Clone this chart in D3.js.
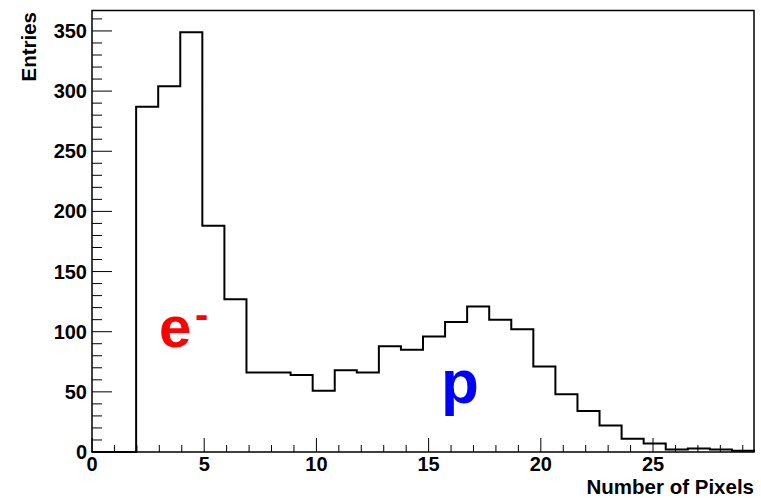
<!DOCTYPE html>
<html>
<head>
<meta charset="utf-8">
<script src="https://cdn.jsdelivr.net/npm/d3@7"></script>
<style>
  body { margin: 0; background: #fff; }
  text { font-family: "Liberation Sans", Arial, Helvetica, sans-serif; font-weight: bold; }
</style>
</head>
<body>
<div id="chart"></div>
<script>
// histogram: 30 bins from 0 to 29.5
var nBins = 30;
var xMin = 0, xMax = 29.5;
var counts = [0, 0, 287, 304, 349, 188, 127, 66, 66, 64,
              51, 68, 66, 88, 85, 96, 108, 121, 110, 102,
              71, 48, 34, 22, 11, 7, 2, 3, 2, 1];
var xTicks = [0, 5, 10, 15, 20, 25];
var yTicks = [0, 50, 100, 150, 200, 250, 300, 350];
var xTitle = "Number of Pixels";
var yTitle = "Entries";

var W = 761, H = 498;
// note: "top" is taken by window.top, so use frame* names
var frameL = 92, frameR = 754, frameT = 10.5, frameB = 452;

var svg = d3.select("#chart").append("svg")
    .attr("width", W)
    .attr("height", H);

var x = d3.scaleLinear().domain([xMin, xMax]).range([frameL, frameR]);
var y = d3.scaleLinear().domain([0, 367]).range([frameB, frameT]);

var binW = (xMax - xMin) / nBins;

// step line of the histogram
var pts = [[xMin, 0]];
counts.forEach(function(c, i) {
  pts.push([xMin + i * binW, c]);
  pts.push([xMin + (i + 1) * binW, c]);
});
pts.push([xMax, 0]);

svg.append("path")
   .attr("d", d3.line().x(function(d) { return x(d[0]); }).y(function(d) { return y(d[1]); })(pts))
   .attr("fill", "none")
   .attr("stroke", "#000")
   .attr("stroke-width", 2);

// x axis ticks (minor every 1, major every 5)
var xMinor = d3.range(0, 30, 1);
svg.selectAll(".xtick")
   .data(xMinor)
   .enter()
   .append("line")
   .attr("x1", function(d) { return x(d); })
   .attr("x2", function(d) { return x(d); })
   .attr("y1", frameB)
   .attr("y2", function(d) { return d % 5 == 0 ? frameB - 14 : frameB - 7; })
   .attr("stroke", "#000")
   .attr("stroke-width", 1);

svg.selectAll(".xlab")
   .data(xTicks)
   .enter()
   .append("text")
   .attr("x", function(d) { return x(d); })
   .attr("y", 471)
   .attr("text-anchor", "middle")
   .attr("font-size", "20px")
   .text(function(d) { return d; });

// y axis ticks (minor every 10, major every 50)
var yMinor = d3.range(0, 370, 10);
svg.selectAll(".ytick")
   .data(yMinor)
   .enter()
   .append("line")
   .attr("x1", frameL)
   .attr("x2", function(d) { return d % 50 == 0 ? frameL + 20 : frameL + 10; })
   .attr("y1", function(d) { return y(d); })
   .attr("y2", function(d) { return y(d); })
   .attr("stroke", "#000")
   .attr("stroke-width", 1);

svg.selectAll(".ylab")
   .data(yTicks)
   .enter()
   .append("text")
   .attr("x", 87)
   .attr("y", function(d) { return y(d) + 7; })
   .attr("text-anchor", "end")
   .attr("font-size", "20px")
   .text(function(d) { return d; });

// frame
svg.append("rect")
   .attr("x", frameL)
   .attr("y", frameT)
   .attr("width", frameR - frameL)
   .attr("height", frameB - frameT)
   .attr("fill", "none")
   .attr("stroke", "#000")
   .attr("stroke-width", 1.5);

// axis titles
svg.append("text")
   .attr("x", frameR)
   .attr("y", 494)
   .attr("text-anchor", "end")
   .attr("font-size", "20.5px")
   .text(xTitle);

svg.append("text")
   .attr("transform", "translate(36," + (frameT + 1.5) + ") rotate(-90)")
   .attr("text-anchor", "end")
   .attr("font-size", "20.5px")
   .text(yTitle);

// particle labels
svg.append("text")
   .attr("x", 159)
   .attr("y", 347)
   .attr("fill", "#ff0000")
   .attr("font-size", "58px")
   .text("e");
svg.append("text")
   .attr("x", 195)
   .attr("y", 328)
   .attr("fill", "#ff0000")
   .attr("font-size", "40px")
   .text("-");

svg.append("text")
   .attr("x", 441)
   .attr("y", 403)
   .attr("fill", "#0000ff")
   .attr("font-size", "62px")
   .text("p");
</script>
</body>
</html>
